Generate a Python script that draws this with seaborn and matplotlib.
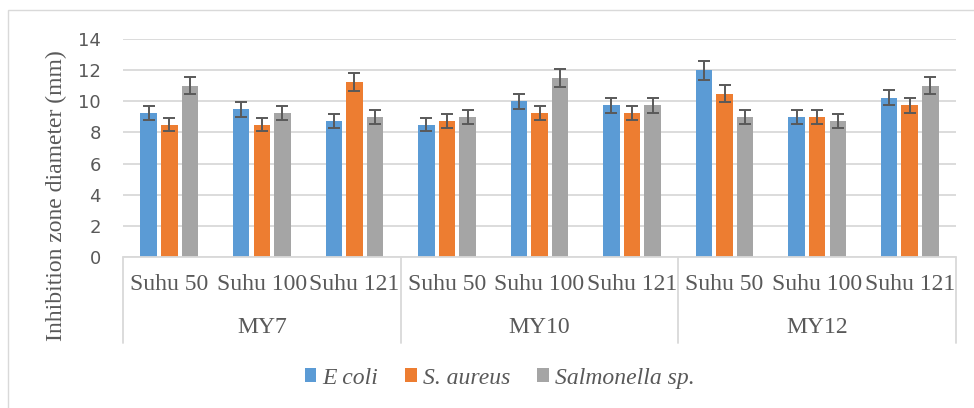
import matplotlib
matplotlib.use("Agg")
from matplotlib import pyplot as plt
from matplotlib.font_manager import FontProperties
from matplotlib.patches import Rectangle
import matplotlib.transforms as mtransforms
import pandas as pd
import seaborn as sns

sns.set_style("white")
plt.rcParams['font.serif'] = ['Liberation Serif', 'Times New Roman', 'DejaVu Serif']
plt.rcParams['font.family'] = 'serif'

groups = ['MY7', 'MY10', 'MY12']
temps = ['Suhu 50', 'Suhu 100', 'Suhu 121']
strains = ['E coli', 'S. aureus', 'Salmonella sp.']

ecoli = [9.25, 9.5, 8.75, 8.5, 10.0, 9.75, 12.0, 9.0, 10.25]
saureus = [8.5, 8.5, 11.25, 8.75, 9.25, 9.25, 10.5, 9.0, 9.75]
salmonella = [11.0, 9.25, 9.0, 9.0, 11.5, 9.75, 9.0, 8.75, 11.0]

ecoli_err = [0.46, 0.48, 0.44, 0.43, 0.5, 0.49, 0.6, 0.45, 0.51]
saureus_err = [0.43, 0.43, 0.56, 0.44, 0.46, 0.46, 0.53, 0.45, 0.49]
salmonella_err = [0.55, 0.46, 0.45, 0.45, 0.58, 0.49, 0.45, 0.44, 0.55]

yticks = [0, 2, 4, 6, 8, 10, 12, 14]

colors = ['#5B9BD5', '#ED7D31', '#A5A5A5']
grey_txt = '#595959'
line_c = '#D9D9D9'

cats = [g + '|' + t for g in groups for t in temps]
rows = []
for name, vals in zip(strains, [ecoli, saureus, salmonella]):
    for c, v in zip(cats, vals):
        rows.append({'cat': c, 'strain': name, 'value': v})
df = pd.DataFrame(rows)

fig = plt.figure(figsize=(9.74, 4.08), dpi=100)
ax = fig.add_axes([123/974, 1-256.7/408, (956-123)/974, (256.7-39.3)/408])

sns.barplot(data=df, x='cat', y='value', hue='strain', order=cats,
            hue_order=strains, palette=colors, saturation=1, width=0.667,
            gap=0.2, linewidth=0, errorbar=None, ax=ax)

for cont, errs in zip(ax.containers, [ecoli_err, saureus_err, salmonella_err]):
    xs = [b.get_x() + b.get_width()/2 for b in cont]
    hs = [b.get_height() for b in cont]
    ax.errorbar(xs, hs, yerr=errs, fmt='none', ecolor=grey_txt,
                elinewidth=1.4, capsize=4.3, capthick=1.4, zorder=5)

ax.set_ylim(0, 14)
ax.set_xlim(-0.5, 8.5)
ax.set_ylabel('')
ax.set_xlabel('')
ax.yaxis.grid(True, color=line_c, linewidth=1.3)
ax.set_axisbelow(True)
for s in ax.spines.values():
    s.set_visible(False)

ax.set_yticks(yticks)
ax.set_yticklabels([str(v) for v in yticks], family='DejaVu Sans', fontsize=13)
ax.tick_params(axis='y', length=0, pad=16, labelcolor=grey_txt)

# first level labels
ax.set_xticks(range(len(cats)))
ax.set_xticklabels([c.split('|')[1] for c in cats], va='center',
                   family='Liberation Serif', fontsize=17)
ax.tick_params(axis='x', length=0, pad=20, labelcolor=grey_txt)

# second level labels and box lines
trans = mtransforms.blended_transform_factory(ax.transData, ax.transAxes)
for i, g in enumerate(groups):
    ax.text(3*i + 1, -71/217.4, g, transform=trans, ha='center', va='center',
            color=grey_txt, family='Liberation Serif', fontsize=17)
for xb in [-0.5, 2.5, 5.5, 8.5]:
    ax.plot([xb, xb], [0, -86/217.4], transform=trans, color=line_c,
            linewidth=1.3, clip_on=False)
ax.plot([-0.5, 8.5], [0, 0], color=line_c, linewidth=1.3, clip_on=False)

fig.text(56/974, 1-196/408, 'Inhibition zone diameter (mm)', rotation=90,
         ha='center', va='center', color=grey_txt, family='Liberation Serif',
         fontsize=17)

sns.move_legend(ax, loc='center', bbox_to_anchor=(0.513, 0.0735),
                bbox_transform=fig.transFigure, ncol=3, frameon=False,
                title=None, handlelength=0.5, handleheight=0.5,
                handletextpad=0.25, columnspacing=1.15,
                prop=FontProperties(family='Liberation Serif', style='italic', size=17))
for t in ax.get_legend().get_texts():
    t.set_color(grey_txt)

fig.patches.append(Rectangle((8/974, -0.1), 1.2, 1.1 - 10/408,
                             transform=fig.transFigure, fill=False,
                             edgecolor=line_c, linewidth=1.0))

fig.savefig('out.png', dpi=100)
